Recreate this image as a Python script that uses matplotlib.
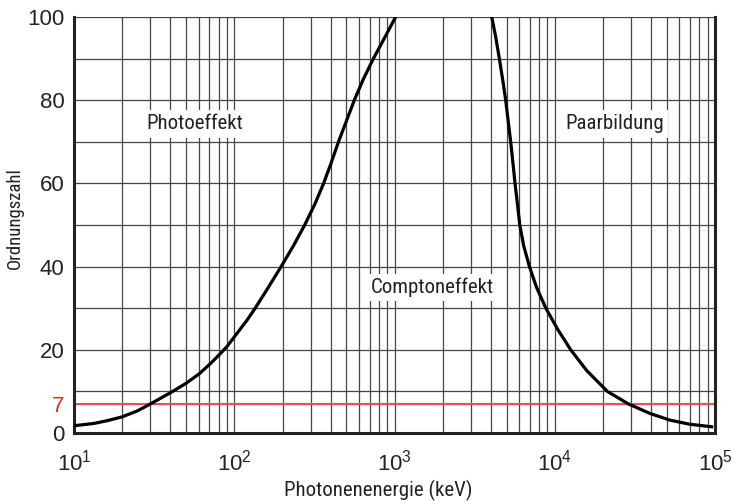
import numpy as np
import matplotlib
matplotlib.use("Agg")
import matplotlib.pyplot as plt
from matplotlib import font_manager
from matplotlib.ticker import LogLocator, FixedLocator

plt.rcParams['font.family'] = ['Liberation Sans', 'DejaVu Sans']
plt.rcParams['mathtext.fontset'] = 'custom'
plt.rcParams['mathtext.rm'] = 'Liberation Sans'
plt.rcParams['mathtext.it'] = 'Liberation Sans'

# narrow font for the labels, whatever is installed
installed = {f.name for f in font_manager.fontManager.ttflist}
narrow = [n for n in ['Roboto Condensed', 'Noto Sans ExtraCondensed', 'Noto Sans Condensed',
                      'Liberation Sans Narrow', 'DejaVu Sans Condensed', 'Roboto']
          if n in installed]
lab_font = narrow[:1] + ['DejaVu Sans']

# boundary photo effect / compton effect (energy in keV, atomic number)
photo_energy = [10, 13.3, 16.1, 20, 24.8, 30, 40, 49.8, 60.3, 71.3, 80.3, 89.7, 99.6,
                120.5, 134, 160.7, 196, 234, 275, 318, 361, 403, 447, 501,
                561, 638, 738, 867, 1016]
photo_z = [1.75, 2.3, 2.96, 3.9, 5.3, 7, 9.7, 11.9, 14.2, 16.75, 18.75, 20.7, 23,
           27.2, 29.8, 34.6, 40, 45, 50, 55, 60, 65, 70, 75,
           80, 85, 90, 95, 100]

# boundary compton effect / pair production
pair_energy = [4045, 4290, 4510, 4730, 4942, 5120, 5310, 5480, 5650, 5850, 6050, 6400,
               6950, 7700, 8800, 10400, 12580, 15840, 21300, 28780, 39300, 52300,
               69800, 95300]
pair_z = [100, 95, 90, 85, 80, 75, 70, 65, 60, 55, 50, 45,
          40, 35, 30, 25, 20, 15, 10, 7, 4.7, 3.1,
          2.1, 1.5]

water_z = 7
y_major = [0, 7, 20, 40, 60, 80, 100]
y_minor = [10, 30, 50, 70, 90]

fig = plt.figure(figsize=(7.35, 5.01), dpi=100)
ax = fig.add_axes([0.1007, 0.1357, 0.8721, 0.8303])

ax.set_xscale('log')
ax.set_xlim(10, 1e5)
ax.set_ylim(0, 100)
ax.xaxis.set_major_locator(LogLocator(base=10, numticks=10))
ax.xaxis.set_minor_locator(LogLocator(base=10, subs=np.arange(2, 10), numticks=20))
ax.yaxis.set_major_locator(FixedLocator(y_major))
ax.yaxis.set_minor_locator(FixedLocator(y_minor))
ax.grid(True, which='both', color='#454545', lw=0.9, zorder=1)
ax.set_axisbelow(True)

ax.axhline(water_z, color='#e8505a', lw=1.4, zorder=2)
ax.plot(photo_energy, photo_z, color='black', lw=2.3, zorder=3)
ax.plot(pair_energy, pair_z, color='black', lw=2.3, zorder=3)

box = dict(facecolor='white', edgecolor='none', pad=3)
txt = dict(ha='center', va='center', fontsize=15, family=lab_font,
           color='#222222', bbox=box, zorder=4)
ax.text(57, 74.3, 'Photoeffekt', **txt)
ax.text(1715, 35, 'Comptoneffekt', **txt)
ax.text(23700, 74.3, 'Paarbildung', **txt)

ax.set_xlabel('Photonenenergie (keV)', fontsize=15, family=lab_font,
              color='#222222')
ax.xaxis.set_label_coords(0.4743, -0.113)
ax.set_ylabel('Ordnungszahl', fontsize=13.5, family=lab_font,
              color='#222222')
ax.yaxis.set_label_coords(-0.079, 0.517)

ax.tick_params(which='both', length=0)
ax.tick_params(axis='x', labelsize=16, pad=12, colors='#222222')
ax.tick_params(axis='y', labelsize=16, pad=7, colors='#222222')
for lab in ax.get_yticklabels():
    if lab.get_text() == '7':
        lab.set_color('#e8262f')

for side in ['left', 'bottom', 'right']:
    ax.spines[side].set_linewidth(2.2)
    ax.spines[side].set_color('#222222')
ax.spines['top'].set_visible(False)

fig.savefig('out.png', dpi=100)
